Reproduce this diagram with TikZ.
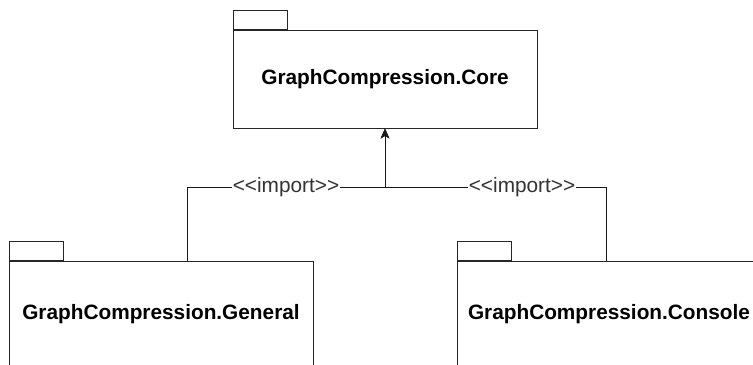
\documentclass[tikz,border=0pt]{standalone}
\usepackage{fontspec}
\setmainfont{Liberation Sans}
\usetikzlibrary{arrows.meta, positioning}

\tikzset{
    pkgbody/.style={rectangle, draw=black!85, fill=white, line width=0.5pt,
                    minimum width=152pt, minimum height=53pt, inner sep=0pt,
                    font=\fontsize{10.4}{12}\selectfont\bfseries},
    pkgtab/.style={rectangle, draw=black!85, fill=white, line width=0.5pt,
                   minimum width=27pt, minimum height=9.5pt, inner sep=0pt,
                   anchor=south west},
    dep/.style={-{Stealth[length=5pt, width=4.4pt, inset=1.3pt]}, draw=black!90,
                line width=0.5pt},
    stereo/.style={fill=white, text=black!80, inner sep=0.6pt,
                   font=\fontsize{10.4}{12}\selectfont}
}

\begin{document}
\begin{tikzpicture}[x=0.5pt, y=-0.5pt]
    \useasboundingbox (0,0) rectangle (753,364);
    \clip (0,0) rectangle (753,364);

    % core package on top
    \node[pkgbody, minimum height=49pt] (core) at (385,79) {GraphCompression.Core};
    \node[pkgtab] (coretab) at (core.north west) {};

    % the two packages that depend on it
    \node[pkgbody] (gen) at (161,314) {GraphCompression.General};
    \node[pkgtab] (gentab) at (gen.north west) {};

    \node[pkgbody] (con) at (609,314) {GraphCompression.Console};
    \node[pkgtab] (contab) at (con.north west) {};

    % import dependencies
    \coordinate (joint) at (385,187);
    \draw[dep] ([xshift=13pt]gen.north) |- node[stereo, pos=0.75] {{<}{<}import{>}{>}} (joint) -- (core.south);
    \draw[dep] ([xshift=-1.5pt]con.north) |- node[stereo, pos=0.69] {{<}{<}import{>}{>}} (joint) -- (core.south);

\end{tikzpicture}
\end{document}
